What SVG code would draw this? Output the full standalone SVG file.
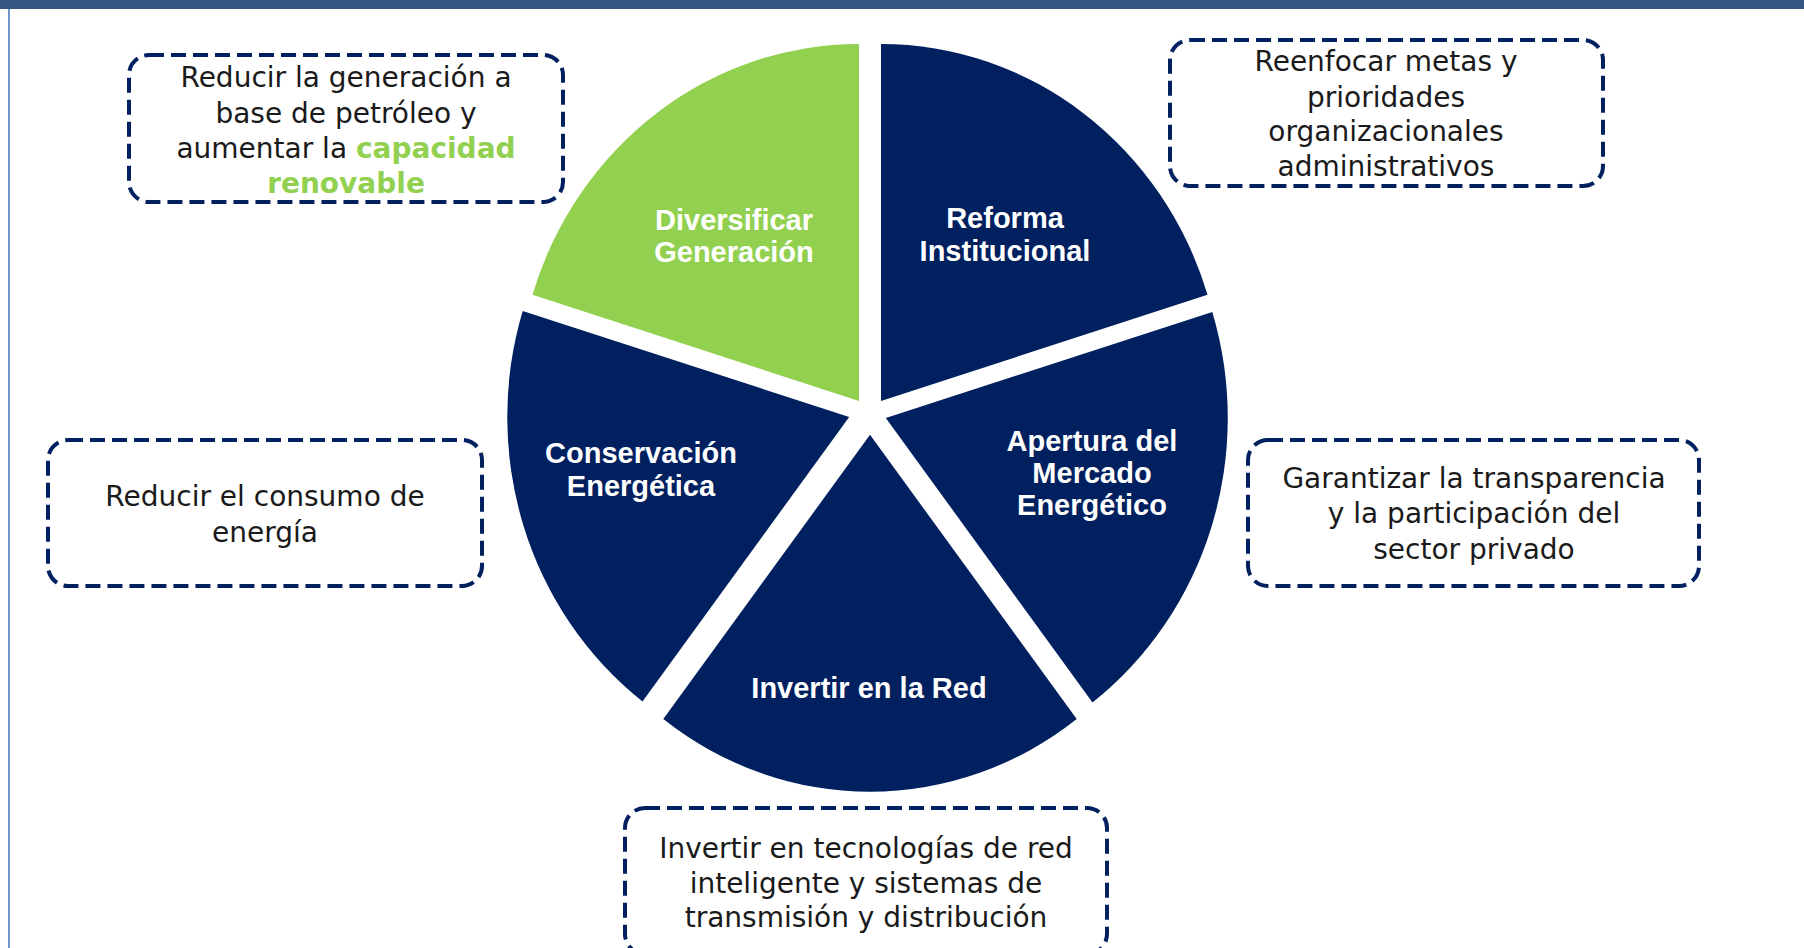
<svg xmlns="http://www.w3.org/2000/svg" width="1804" height="948" viewBox="0 0 1804 948">
<style>
.slice-blue{fill:#002060}
.slice-green{fill:#92D050}
.lbl{font-family:"Liberation Sans",Arial,sans-serif;font-weight:bold;font-size:29px;fill:#ffffff;text-anchor:middle}
.box{fill:#ffffff;stroke:#002060;stroke-width:4;stroke-dasharray:15 7}
.txt{font-family:"DejaVu Sans",sans-serif;font-size:28px;fill:#1a1a1a;text-anchor:middle}
.hl{fill:#92D050;font-weight:bold}
</style>
<rect x="0" y="0" width="1804" height="948" fill="#ffffff"/>
<rect x="0" y="0" width="1804" height="9" fill="#33557f"/>
<rect x="8" y="9" width="2" height="939" fill="#6f96cc"/>
<g id="connectors"/>
<g id="diversificar">
<path class="slice-green" d="M859,400.9 L532.5,294.8 A342,357 0 0,1 859,43.9 Z"/>
<text class="lbl" x="734" y="230">Diversificar</text>
<text class="lbl" x="734" y="262">Generación</text>
</g>
<g id="reforma">
<path class="slice-blue" d="M881,400.9 L881,43.9 A342,357 0 0,1 1207.5,294.8 Z"/>
<text class="lbl" x="1005" y="228">Reforma</text>
<text class="lbl" x="1005" y="261">Institucional</text>
</g>
<g id="apertura">
<path class="slice-blue" d="M885.8,418 L1212.3,311.9 A342,357 0 0,1 1092.5,702.4 Z"/>
<text class="lbl" x="1092" y="451">Apertura del</text>
<text class="lbl" x="1092" y="483">Mercado</text>
<text class="lbl" x="1092" y="515">Energético</text>
</g>
<g id="invertir">
<path class="slice-blue" d="M870,434.7 L1076.7,719.1 A342,357 0 0,1 663.3,719.1 Z"/>
<text class="lbl" x="869" y="698">Invertir en la Red</text>
</g>
<g id="conservacion">
<path class="slice-blue" d="M849.2,417 L642.5,701.4 A342,357 0 0,1 522.7,310.9 Z"/>
<text class="lbl" x="641" y="463">Conservación</text>
<text class="lbl" x="641" y="496">Energética</text>
</g>
<g id="box-diversificar">
<rect class="box" x="129" y="55" width="434" height="147" rx="20"/>
<text class="txt" x="346" y="87">Reducir la generación a</text>
<text class="txt" x="346" y="123">base de petróleo y</text>
<text class="txt" x="346" y="158">aumentar la <tspan class="hl">capacidad</tspan></text>
<text class="txt hl" x="346" y="193">renovable</text>
</g>
<g id="box-reforma">
<rect class="box" x="1170" y="40" width="433" height="146" rx="20"/>
<text class="txt" x="1386" y="71">Reenfocar metas y</text>
<text class="txt" x="1386" y="107">prioridades</text>
<text class="txt" x="1386" y="141">organizacionales</text>
<text class="txt" x="1386" y="176">administrativos</text>
</g>
<g id="box-conservacion">
<rect class="box" x="48" y="440" width="434" height="146" rx="20"/>
<text class="txt" x="265" y="506">Reducir el consumo de</text>
<text class="txt" x="265" y="542">energía</text>
</g>
<g id="box-apertura">
<rect class="box" x="1248" y="440" width="451" height="146" rx="20"/>
<text class="txt" x="1474" y="488">Garantizar la transparencia</text>
<text class="txt" x="1474" y="523">y la participación del</text>
<text class="txt" x="1474" y="559">sector privado</text>
</g>
<g id="box-invertir">
<rect class="box" x="625" y="808" width="482" height="146" rx="20"/>
<text class="txt" x="866" y="858">Invertir en tecnologías de red</text>
<text class="txt" x="866" y="893">inteligente y sistemas de</text>
<text class="txt" x="866" y="927">transmisión y distribución</text>
</g>
</svg>
